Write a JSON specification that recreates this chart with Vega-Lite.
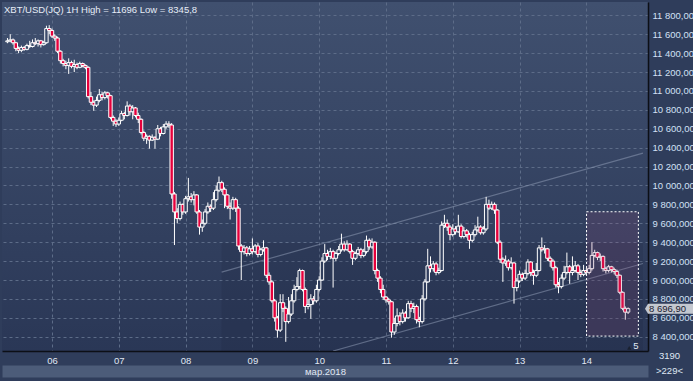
{
 "$schema": "https://vega.github.io/schema/vega-lite/v6.json",
 "width": 646,
 "height": 349,
 "autosize": {"type": "none"},
 "padding": {"left": 2, "top": 2, "right": 45, "bottom": 30},
 "background": "#2f3d5b",
 "config": {
  "locale": {"number": {"decimal": ",", "thousands": " ", "grouping": [3], "currency": ["", ""]}},
  "view": {"stroke": null, "fill": {"gradient": "linear", "x1": 0, "y1": 0, "x2": 0, "y2": 1, "stops": [{"offset": 0, "color": "#40506f"}, {"offset": 1, "color": "#2a3756"}]}},
  "font": "Liberation Sans"
 },
 "title": {"text": "XBT/USD(JQ) 1H High = 11696 Low = 8345,8", "anchor": "start", "offset": -12, "baseline": "alphabetic", "font": "Liberation Sans", "fontSize": 9.5, "fontWeight": "normal", "color": "#e6edf7", "dx": 2, "dy": 8},
 "datasets": {
  "candles": [
   {"t":"2018-03-05T08:00","o":11520,"hi":11560,"lo":11505,"c":11530},
   {"t":"2018-03-05T09:00","o":11530,"hi":11600,"lo":11515,"c":11540},
   {"t":"2018-03-05T10:00","o":11540,"hi":11555,"lo":11490,"c":11510},
   {"t":"2018-03-05T11:00","o":11510,"hi":11520,"lo":11420,"c":11450},
   {"t":"2018-03-05T12:00","o":11450,"hi":11470,"lo":11400,"c":11430},
   {"t":"2018-03-05T13:00","o":11430,"hi":11480,"lo":11410,"c":11460},
   {"t":"2018-03-05T14:00","o":11460,"hi":11475,"lo":11425,"c":11440},
   {"t":"2018-03-05T15:00","o":11440,"hi":11500,"lo":11430,"c":11480},
   {"t":"2018-03-05T16:00","o":11480,"hi":11530,"lo":11455,"c":11470},
   {"t":"2018-03-05T17:00","o":11470,"hi":11545,"lo":11460,"c":11510},
   {"t":"2018-03-05T18:00","o":11510,"hi":11560,"lo":11485,"c":11500},
   {"t":"2018-03-05T19:00","o":11500,"hi":11545,"lo":11470,"c":11530},
   {"t":"2018-03-05T20:00","o":11530,"hi":11540,"lo":11460,"c":11490},
   {"t":"2018-03-05T21:00","o":11490,"hi":11530,"lo":11480,"c":11510},
   {"t":"2018-03-05T22:00","o":11510,"hi":11690,"lo":11500,"c":11660},
   {"t":"2018-03-05T23:00","o":11660,"hi":11696,"lo":11600,"c":11640},
   {"t":"2018-03-06T00:00","o":11640,"hi":11660,"lo":11560,"c":11580},
   {"t":"2018-03-06T01:00","o":11580,"hi":11600,"lo":11530,"c":11560},
   {"t":"2018-03-06T02:00","o":11560,"hi":11575,"lo":11400,"c":11420},
   {"t":"2018-03-06T03:00","o":11420,"hi":11430,"lo":11290,"c":11320},
   {"t":"2018-03-06T04:00","o":11320,"hi":11340,"lo":11260,"c":11290},
   {"t":"2018-03-06T05:00","o":11290,"hi":11320,"lo":11230,"c":11270},
   {"t":"2018-03-06T06:00","o":11270,"hi":11345,"lo":11180,"c":11300},
   {"t":"2018-03-06T07:00","o":11300,"hi":11320,"lo":11240,"c":11260},
   {"t":"2018-03-06T08:00","o":11260,"hi":11330,"lo":11200,"c":11280},
   {"t":"2018-03-06T09:00","o":11280,"hi":11300,"lo":11230,"c":11250},
   {"t":"2018-03-06T10:00","o":11250,"hi":11310,"lo":11240,"c":11290},
   {"t":"2018-03-06T11:00","o":11290,"hi":11300,"lo":11250,"c":11270},
   {"t":"2018-03-06T12:00","o":11270,"hi":11280,"lo":11230,"c":11250},
   {"t":"2018-03-06T13:00","o":11250,"hi":11260,"lo":10920,"c":10940},
   {"t":"2018-03-06T14:00","o":10940,"hi":10990,"lo":10850,"c":10880},
   {"t":"2018-03-06T15:00","o":10880,"hi":10900,"lo":10790,"c":10850},
   {"t":"2018-03-06T16:00","o":10850,"hi":10940,"lo":10830,"c":10900},
   {"t":"2018-03-06T17:00","o":10900,"hi":11020,"lo":10880,"c":10960},
   {"t":"2018-03-06T18:00","o":10960,"hi":10990,"lo":10900,"c":10930},
   {"t":"2018-03-06T19:00","o":10930,"hi":11000,"lo":10910,"c":10980},
   {"t":"2018-03-06T20:00","o":10980,"hi":10990,"lo":10920,"c":10950},
   {"t":"2018-03-06T21:00","o":10950,"hi":10960,"lo":10700,"c":10720},
   {"t":"2018-03-06T22:00","o":10720,"hi":10740,"lo":10630,"c":10680},
   {"t":"2018-03-06T23:00","o":10680,"hi":10700,"lo":10620,"c":10650},
   {"t":"2018-03-07T00:00","o":10650,"hi":10720,"lo":10630,"c":10690},
   {"t":"2018-03-07T01:00","o":10690,"hi":10790,"lo":10680,"c":10760},
   {"t":"2018-03-07T02:00","o":10760,"hi":10780,"lo":10700,"c":10740},
   {"t":"2018-03-07T03:00","o":10740,"hi":10890,"lo":10730,"c":10840},
   {"t":"2018-03-07T04:00","o":10840,"hi":10860,"lo":10740,"c":10780},
   {"t":"2018-03-07T05:00","o":10780,"hi":10850,"lo":10700,"c":10820},
   {"t":"2018-03-07T06:00","o":10820,"hi":10830,"lo":10720,"c":10740},
   {"t":"2018-03-07T07:00","o":10740,"hi":10770,"lo":10660,"c":10700},
   {"t":"2018-03-07T08:00","o":10700,"hi":10710,"lo":10540,"c":10560},
   {"t":"2018-03-07T09:00","o":10560,"hi":10580,"lo":10470,"c":10500},
   {"t":"2018-03-07T10:00","o":10500,"hi":10540,"lo":10440,"c":10520},
   {"t":"2018-03-07T11:00","o":10520,"hi":10530,"lo":10390,"c":10480},
   {"t":"2018-03-07T12:00","o":10480,"hi":10540,"lo":10470,"c":10510},
   {"t":"2018-03-07T13:00","o":10510,"hi":10520,"lo":10390,"c":10490},
   {"t":"2018-03-07T14:00","o":10490,"hi":10640,"lo":10480,"c":10600},
   {"t":"2018-03-07T15:00","o":10600,"hi":10620,"lo":10520,"c":10550},
   {"t":"2018-03-07T16:00","o":10550,"hi":10650,"lo":10540,"c":10620},
   {"t":"2018-03-07T17:00","o":10620,"hi":10680,"lo":10600,"c":10650},
   {"t":"2018-03-07T18:00","o":10650,"hi":10680,"lo":10610,"c":10640},
   {"t":"2018-03-07T19:00","o":10640,"hi":10660,"lo":9860,"c":9910},
   {"t":"2018-03-07T20:00","o":9910,"hi":9930,"lo":9370,"c":9720},
   {"t":"2018-03-07T21:00","o":9720,"hi":9760,"lo":9600,"c":9650},
   {"t":"2018-03-07T22:00","o":9650,"hi":9830,"lo":9630,"c":9800},
   {"t":"2018-03-07T23:00","o":9800,"hi":9810,"lo":9690,"c":9720},
   {"t":"2018-03-08T00:00","o":9720,"hi":9890,"lo":9700,"c":9860},
   {"t":"2018-03-08T01:00","o":9860,"hi":10080,"lo":9830,"c":9880},
   {"t":"2018-03-08T02:00","o":9880,"hi":9920,"lo":9820,"c":9850},
   {"t":"2018-03-08T03:00","o":9850,"hi":9940,"lo":9790,"c":9900},
   {"t":"2018-03-08T04:00","o":9900,"hi":9910,"lo":9700,"c":9720},
   {"t":"2018-03-08T05:00","o":9720,"hi":9740,"lo":9480,"c":9560},
   {"t":"2018-03-08T06:00","o":9560,"hi":9640,"lo":9510,"c":9600},
   {"t":"2018-03-08T07:00","o":9600,"hi":9750,"lo":9580,"c":9720},
   {"t":"2018-03-08T08:00","o":9720,"hi":9820,"lo":9700,"c":9780},
   {"t":"2018-03-08T09:00","o":9780,"hi":9800,"lo":9720,"c":9760},
   {"t":"2018-03-08T10:00","o":9760,"hi":9930,"lo":9740,"c":9850},
   {"t":"2018-03-08T11:00","o":9850,"hi":10000,"lo":9830,"c":9950},
   {"t":"2018-03-08T12:00","o":9950,"hi":10095,"lo":9930,"c":10030},
   {"t":"2018-03-08T13:00","o":10030,"hi":10050,"lo":9930,"c":9960},
   {"t":"2018-03-08T14:00","o":9960,"hi":9980,"lo":9760,"c":9900},
   {"t":"2018-03-08T15:00","o":9900,"hi":9910,"lo":9750,"c":9780},
   {"t":"2018-03-08T16:00","o":9780,"hi":9820,"lo":9640,"c":9760},
   {"t":"2018-03-08T17:00","o":9760,"hi":9880,"lo":9740,"c":9850},
   {"t":"2018-03-08T18:00","o":9850,"hi":9870,"lo":9720,"c":9760},
   {"t":"2018-03-08T19:00","o":9760,"hi":9780,"lo":9320,"c":9360},
   {"t":"2018-03-08T20:00","o":9360,"hi":9380,"lo":9000,"c":9300},
   {"t":"2018-03-08T21:00","o":9300,"hi":9370,"lo":9270,"c":9340},
   {"t":"2018-03-08T22:00","o":9340,"hi":9360,"lo":9250,"c":9280},
   {"t":"2018-03-08T23:00","o":9280,"hi":9360,"lo":9260,"c":9330},
   {"t":"2018-03-09T00:00","o":9330,"hi":9440,"lo":9270,"c":9300},
   {"t":"2018-03-09T01:00","o":9300,"hi":9380,"lo":9280,"c":9360},
   {"t":"2018-03-09T02:00","o":9360,"hi":9390,"lo":9240,"c":9270},
   {"t":"2018-03-09T03:00","o":9270,"hi":9340,"lo":9250,"c":9320},
   {"t":"2018-03-09T04:00","o":9320,"hi":9420,"lo":9300,"c":9340},
   {"t":"2018-03-09T05:00","o":9340,"hi":9350,"lo":9020,"c":9050},
   {"t":"2018-03-09T06:00","o":9050,"hi":9080,"lo":8950,"c":8980},
   {"t":"2018-03-09T07:00","o":8980,"hi":9000,"lo":8760,"c":8780},
   {"t":"2018-03-09T08:00","o":8780,"hi":8800,"lo":8560,"c":8600},
   {"t":"2018-03-09T09:00","o":8600,"hi":8620,"lo":8390,"c":8470},
   {"t":"2018-03-09T10:00","o":8470,"hi":8850,"lo":8450,"c":8760},
   {"t":"2018-03-09T11:00","o":8760,"hi":8850,"lo":8660,"c":8700},
   {"t":"2018-03-09T12:00","o":8700,"hi":8720,"lo":8346,"c":8560},
   {"t":"2018-03-09T13:00","o":8560,"hi":8820,"lo":8540,"c":8640},
   {"t":"2018-03-09T14:00","o":8640,"hi":8850,"lo":8620,"c":8780},
   {"t":"2018-03-09T15:00","o":8780,"hi":8950,"lo":8760,"c":8900},
   {"t":"2018-03-09T16:00","o":8900,"hi":9030,"lo":8880,"c":8930},
   {"t":"2018-03-09T17:00","o":8930,"hi":9120,"lo":8900,"c":9100},
   {"t":"2018-03-09T18:00","o":9100,"hi":9110,"lo":8880,"c":8900},
   {"t":"2018-03-09T19:00","o":8900,"hi":8920,"lo":8650,"c":8720},
   {"t":"2018-03-09T20:00","o":8720,"hi":8800,"lo":8690,"c":8740},
   {"t":"2018-03-09T21:00","o":8740,"hi":8850,"lo":8590,"c":8800},
   {"t":"2018-03-09T22:00","o":8800,"hi":8830,"lo":8740,"c":8780},
   {"t":"2018-03-09T23:00","o":8780,"hi":8950,"lo":8760,"c":8900},
   {"t":"2018-03-10T00:00","o":8900,"hi":9040,"lo":8880,"c":9000},
   {"t":"2018-03-10T01:00","o":9000,"hi":9240,"lo":8990,"c":9200},
   {"t":"2018-03-10T02:00","o":9200,"hi":9380,"lo":9180,"c":9280},
   {"t":"2018-03-10T03:00","o":9280,"hi":9320,"lo":9210,"c":9250},
   {"t":"2018-03-10T04:00","o":9250,"hi":9340,"lo":9220,"c":9300},
   {"t":"2018-03-10T05:00","o":9300,"hi":9320,"lo":8920,"c":9230},
   {"t":"2018-03-10T06:00","o":9230,"hi":9300,"lo":9200,"c":9280},
   {"t":"2018-03-10T07:00","o":9280,"hi":9360,"lo":9260,"c":9320},
   {"t":"2018-03-10T08:00","o":9320,"hi":9490,"lo":9300,"c":9380},
   {"t":"2018-03-10T09:00","o":9380,"hi":9410,"lo":9300,"c":9320},
   {"t":"2018-03-10T10:00","o":9320,"hi":9420,"lo":9310,"c":9380},
   {"t":"2018-03-10T11:00","o":9380,"hi":9390,"lo":9280,"c":9300},
   {"t":"2018-03-10T12:00","o":9300,"hi":9320,"lo":9160,"c":9230},
   {"t":"2018-03-10T13:00","o":9230,"hi":9300,"lo":9210,"c":9280},
   {"t":"2018-03-10T14:00","o":9280,"hi":9350,"lo":9260,"c":9320},
   {"t":"2018-03-10T15:00","o":9320,"hi":9340,"lo":9230,"c":9260},
   {"t":"2018-03-10T16:00","o":9260,"hi":9330,"lo":9240,"c":9300},
   {"t":"2018-03-10T17:00","o":9300,"hi":9470,"lo":9280,"c":9420},
   {"t":"2018-03-10T18:00","o":9420,"hi":9440,"lo":9320,"c":9350},
   {"t":"2018-03-10T19:00","o":9350,"hi":9440,"lo":9330,"c":9400},
   {"t":"2018-03-10T20:00","o":9400,"hi":9410,"lo":9060,"c":9100},
   {"t":"2018-03-10T21:00","o":9100,"hi":9120,"lo":8980,"c":9020},
   {"t":"2018-03-10T22:00","o":9020,"hi":9040,"lo":8860,"c":8900},
   {"t":"2018-03-10T23:00","o":8900,"hi":8950,"lo":8790,"c":8820},
   {"t":"2018-03-11T00:00","o":8820,"hi":8830,"lo":8760,"c":8790},
   {"t":"2018-03-11T01:00","o":8790,"hi":8810,"lo":8740,"c":8770},
   {"t":"2018-03-11T02:00","o":8770,"hi":8780,"lo":8390,"c":8450},
   {"t":"2018-03-11T03:00","o":8450,"hi":8600,"lo":8420,"c":8540},
   {"t":"2018-03-11T04:00","o":8540,"hi":8700,"lo":8510,"c":8620},
   {"t":"2018-03-11T05:00","o":8620,"hi":8660,"lo":8520,"c":8560},
   {"t":"2018-03-11T06:00","o":8560,"hi":8690,"lo":8540,"c":8650},
   {"t":"2018-03-11T07:00","o":8650,"hi":8670,"lo":8560,"c":8600},
   {"t":"2018-03-11T08:00","o":8600,"hi":8780,"lo":8590,"c":8750},
   {"t":"2018-03-11T09:00","o":8750,"hi":8780,"lo":8660,"c":8700},
   {"t":"2018-03-11T10:00","o":8700,"hi":8760,"lo":8650,"c":8720},
   {"t":"2018-03-11T11:00","o":8720,"hi":8740,"lo":8540,"c":8580},
   {"t":"2018-03-11T12:00","o":8580,"hi":8610,"lo":8500,"c":8560},
   {"t":"2018-03-11T13:00","o":8560,"hi":8840,"lo":8540,"c":8800},
   {"t":"2018-03-11T14:00","o":8800,"hi":9010,"lo":8780,"c":8980},
   {"t":"2018-03-11T15:00","o":8980,"hi":9330,"lo":8970,"c":9150},
   {"t":"2018-03-11T16:00","o":9150,"hi":9250,"lo":9080,"c":9120},
   {"t":"2018-03-11T17:00","o":9120,"hi":9200,"lo":9090,"c":9170},
   {"t":"2018-03-11T18:00","o":9170,"hi":9190,"lo":9050,"c":9080},
   {"t":"2018-03-11T19:00","o":9080,"hi":9130,"lo":9060,"c":9100},
   {"t":"2018-03-11T20:00","o":9100,"hi":9620,"lo":9090,"c":9580},
   {"t":"2018-03-11T21:00","o":9580,"hi":9690,"lo":9550,"c":9600},
   {"t":"2018-03-11T22:00","o":9600,"hi":9640,"lo":9520,"c":9560},
   {"t":"2018-03-11T23:00","o":9560,"hi":9580,"lo":9420,"c":9480},
   {"t":"2018-03-12T00:00","o":9480,"hi":9590,"lo":9460,"c":9540},
   {"t":"2018-03-12T01:00","o":9540,"hi":9570,"lo":9480,"c":9510},
   {"t":"2018-03-12T02:00","o":9510,"hi":9690,"lo":9500,"c":9570},
   {"t":"2018-03-12T03:00","o":9570,"hi":9590,"lo":9440,"c":9460},
   {"t":"2018-03-12T04:00","o":9460,"hi":9560,"lo":9440,"c":9520},
   {"t":"2018-03-12T05:00","o":9520,"hi":9540,"lo":9450,"c":9480},
   {"t":"2018-03-12T06:00","o":9480,"hi":9500,"lo":9330,"c":9420},
   {"t":"2018-03-12T07:00","o":9420,"hi":9510,"lo":9400,"c":9480},
   {"t":"2018-03-12T08:00","o":9480,"hi":9580,"lo":9460,"c":9530},
   {"t":"2018-03-12T09:00","o":9530,"hi":9670,"lo":9510,"c":9560},
   {"t":"2018-03-12T10:00","o":9560,"hi":9580,"lo":9480,"c":9500},
   {"t":"2018-03-12T11:00","o":9500,"hi":9570,"lo":9480,"c":9540},
   {"t":"2018-03-12T12:00","o":9540,"hi":9880,"lo":9520,"c":9800},
   {"t":"2018-03-12T13:00","o":9800,"hi":9850,"lo":9740,"c":9760},
   {"t":"2018-03-12T14:00","o":9760,"hi":9830,"lo":9740,"c":9800},
   {"t":"2018-03-12T15:00","o":9800,"hi":9820,"lo":9700,"c":9740},
   {"t":"2018-03-12T16:00","o":9740,"hi":9750,"lo":9380,"c":9400},
   {"t":"2018-03-12T17:00","o":9400,"hi":9420,"lo":9180,"c":9220},
   {"t":"2018-03-12T18:00","o":9220,"hi":9240,"lo":8980,"c":9180},
   {"t":"2018-03-12T19:00","o":9180,"hi":9260,"lo":9150,"c":9200},
   {"t":"2018-03-12T20:00","o":9200,"hi":9220,"lo":9100,"c":9130},
   {"t":"2018-03-12T21:00","o":9130,"hi":9240,"lo":9110,"c":9180},
   {"t":"2018-03-12T22:00","o":9180,"hi":9190,"lo":8750,"c":8920},
   {"t":"2018-03-12T23:00","o":8920,"hi":9020,"lo":8880,"c":8990},
   {"t":"2018-03-13T00:00","o":8990,"hi":9100,"lo":8970,"c":9060},
   {"t":"2018-03-13T01:00","o":9060,"hi":9080,"lo":8990,"c":9020},
   {"t":"2018-03-13T02:00","o":9020,"hi":9110,"lo":9000,"c":9070},
   {"t":"2018-03-13T03:00","o":9070,"hi":9220,"lo":9050,"c":9190},
   {"t":"2018-03-13T04:00","o":9190,"hi":9200,"lo":9040,"c":9080},
   {"t":"2018-03-13T05:00","o":9080,"hi":9110,"lo":8950,"c":9050},
   {"t":"2018-03-13T06:00","o":9050,"hi":9180,"lo":9030,"c":9100},
   {"t":"2018-03-13T07:00","o":9100,"hi":9370,"lo":9090,"c":9340},
   {"t":"2018-03-13T08:00","o":9340,"hi":9450,"lo":9300,"c":9320},
   {"t":"2018-03-13T09:00","o":9320,"hi":9370,"lo":9280,"c":9330},
   {"t":"2018-03-13T10:00","o":9330,"hi":9340,"lo":9200,"c":9230},
   {"t":"2018-03-13T11:00","o":9230,"hi":9250,"lo":9140,"c":9200},
   {"t":"2018-03-13T12:00","o":9200,"hi":9220,"lo":9100,"c":9130},
   {"t":"2018-03-13T13:00","o":9130,"hi":9150,"lo":8920,"c":8950},
   {"t":"2018-03-13T14:00","o":8950,"hi":8980,"lo":8860,"c":8930},
   {"t":"2018-03-13T15:00","o":8930,"hi":9060,"lo":8910,"c":9020},
   {"t":"2018-03-13T16:00","o":9020,"hi":9150,"lo":9000,"c":9080},
   {"t":"2018-03-13T17:00","o":9080,"hi":9290,"lo":9060,"c":9140},
   {"t":"2018-03-13T18:00","o":9140,"hi":9160,"lo":8960,"c":9080},
   {"t":"2018-03-13T19:00","o":9080,"hi":9250,"lo":9050,"c":9100},
   {"t":"2018-03-13T20:00","o":9100,"hi":9200,"lo":9080,"c":9150},
   {"t":"2018-03-13T21:00","o":9150,"hi":9170,"lo":9000,"c":9080},
   {"t":"2018-03-13T22:00","o":9080,"hi":9110,"lo":9030,"c":9060},
   {"t":"2018-03-13T23:00","o":9060,"hi":9160,"lo":9040,"c":9100},
   {"t":"2018-03-14T00:00","o":9100,"hi":9130,"lo":9050,"c":9080},
   {"t":"2018-03-14T01:00","o":9080,"hi":9160,"lo":9060,"c":9120},
   {"t":"2018-03-14T02:00","o":9120,"hi":9400,"lo":9100,"c":9260},
   {"t":"2018-03-14T03:00","o":9260,"hi":9320,"lo":9240,"c":9290},
   {"t":"2018-03-14T04:00","o":9290,"hi":9300,"lo":9210,"c":9240},
   {"t":"2018-03-14T05:00","o":9240,"hi":9280,"lo":9200,"c":9250},
   {"t":"2018-03-14T06:00","o":9250,"hi":9260,"lo":9090,"c":9120},
   {"t":"2018-03-14T07:00","o":9120,"hi":9140,"lo":9070,"c":9100},
   {"t":"2018-03-14T08:00","o":9100,"hi":9160,"lo":9080,"c":9140},
   {"t":"2018-03-14T09:00","o":9140,"hi":9150,"lo":9080,"c":9110},
   {"t":"2018-03-14T10:00","o":9110,"hi":9130,"lo":9060,"c":9090},
   {"t":"2018-03-14T11:00","o":9090,"hi":9110,"lo":9020,"c":9050},
   {"t":"2018-03-14T12:00","o":9050,"hi":9060,"lo":8850,"c":8870},
   {"t":"2018-03-14T13:00","o":8870,"hi":8880,"lo":8680,"c":8700},
   {"t":"2018-03-14T14:00","o":8700,"hi":8720,"lo":8580,"c":8660},
   {"t":"2018-03-14T15:00","o":8660,"hi":8710,"lo":8640,"c":8697}
  ],
  "channel": [
   {"t1":"2018-03-08T12:57","p1":9084,"t2":"2018-03-14T20:21","p2":10343},
   {"t1":"2018-03-10T05:00","p1":8249,"t2":"2018-03-14T20:21","p2":9175}
  ],
  "shade": [
   {"t1":"2018-03-08T12:57","t2":"2018-03-14T20:21","p1":8249,"p2":9391}
  ],
  "zone": [
   {"t1":"2018-03-14T00:04","t2":"2018-03-14T18:41","p1":8407,"p2":9722}
  ],
  "tag": [
   {"t":"2018-03-14T20:21","p":8696.9,"label":"8 696,90"}
  ],
  "marker": [
   {"t":"2018-03-14T17:48","p":8301,"label":"5","tt":"2018-03-14T15:24","tp":8282}
  ]
 },
 "resolve": {"axis": {"x": "independent", "y": "independent"}},
 "layer": [
  {
   "data": {"name": "shade"},
   "mark": {"type": "rect", "fill": "#16203a", "fillOpacity": 0.16},
   "encoding": {
    "x": {"field": "t1", "type": "temporal", "scale": {"domain": [{"year":2018,"month":3,"date":5,"hours":7,"minutes":50},{"year":2018,"month":3,"date":14,"hours":20,"minutes":21}]}, "axis": null},
    "x2": {"field": "t2"},
    "y": {"field": "p1", "type": "quantitative", "scale": {"domain": [8249, 11941], "nice": false, "zero": false}, "axis": null},
    "y2": {"field": "p2"}
   }
  },
  {
   "data": {"name": "channel"},
   "mark": {"type": "rule", "color": "#8c99b2", "strokeWidth": 1.2, "opacity": 0.55, "clip": true},
   "encoding": {
    "x": {"field": "t1", "type": "temporal",
     "scale": {"domain": [{"year":2018,"month":3,"date":5,"hours":7,"minutes":50},{"year":2018,"month":3,"date":14,"hours":20,"minutes":21}]},
     "axis": {"orient": "bottom", "offset": 20, "labels": false, "ticks": false, "grid": false, "domainColor": "#4c5c79", "domainWidth": 12, "title": "мар.2018", "titleColor": "#e0e8f4", "titleFont": "Liberation Sans", "titleFontSize": 9.5, "titleFontWeight": "normal", "titleY": 0, "titleBaseline": "middle"}},
    "x2": {"field": "t2"},
    "y": {"field": "p1", "type": "quantitative",
     "scale": {"domain": [8249, 11941], "nice": false, "zero": false},
     "axis": {"orient": "right", "values": [8400,8600,8800,9000,9200,9400,9600,9800,10000,10200,10400,10600,10800,11000,11200,11400,11600,11800], "format": ",.3f", "labelColor": "#d2e0f5", "labelFont": "Liberation Sans", "labelFontSize": 9.5, "labelPadding": 4, "ticks": false, "tickSize": 0, "domainColor": "#0c0f16", "domainWidth": 1.5, "grid": true, "gridColor": "#5d6c88", "gridDash": [3,3], "labelOverlap": false, "title": "3190", "titleAngle": 0, "titleX": 21, "titleY": 353, "titleAlign": "center", "titleBaseline": "middle", "titleColor": "#dfe7f3", "titleFont": "Liberation Sans", "titleFontSize": 9.5, "titleFontWeight": "normal"}},
    "y2": {"field": "p2"}
   }
  },
  {
   "data": {"name": "candles"},
   "mark": {"type": "rule", "color": "#ffffff", "strokeWidth": 1},
   "encoding": {
    "x": {"field": "t", "type": "temporal",
     "scale": {"domain": [{"year":2018,"month":3,"date":5,"hours":7,"minutes":50},{"year":2018,"month":3,"date":14,"hours":20,"minutes":21}]},
     "axis": {"orient": "bottom", "format": "%d", "tickCount": {"interval": "day", "step": 1}, "labelColor": "#e0e8f4", "labelFont": "Liberation Sans", "labelFontSize": 9.5, "labelPadding": 4, "labelBaseline": "top", "ticks": false, "tickSize": 0, "domainColor": "#0c0f16", "domainWidth": 1.5, "grid": true, "gridColor": "#5d6c88", "gridDash": [3,3], "labelFlush": false, "labelOverlap": false, "title": ">229<", "titleX": 667, "titleY": 19, "titleAlign": "center", "titleBaseline": "middle", "titleColor": "#dfe7f3", "titleFont": "Liberation Sans", "titleFontSize": 9.5, "titleFontWeight": "normal"}},
    "y": {"field": "lo", "type": "quantitative", "scale": {"domain": [8249, 11941], "nice": false, "zero": false}, "axis": null},
    "y2": {"field": "hi"}
   }
  },
  {
   "data": {"name": "candles"},
   "mark": {"type": "bar", "width": 3.4, "stroke": "#ffffff", "strokeWidth": 1},
   "encoding": {
    "x": {"field": "t", "type": "temporal", "scale": {"domain": [{"year":2018,"month":3,"date":5,"hours":7,"minutes":50},{"year":2018,"month":3,"date":14,"hours":20,"minutes":21}]}, "axis": null},
    "y": {"field": "o", "type": "quantitative", "scale": {"domain": [8249, 11941], "nice": false, "zero": false}, "axis": null},
    "y2": {"field": "c"},
    "fill": {"condition": {"test": "datum.c < datum.o", "value": "#e6003c"}, "field": "c", "type": "quantitative", "scale": {"domain": [8249, 11941], "range": ["#2b3857", "#3f4f6f"]}, "legend": null}
   }
  },
  {
   "data": {"name": "zone"},
   "mark": {"type": "rect", "fill": "#a0507a", "fillOpacity": 0.17, "stroke": "#ffffff", "strokeDash": [2,2], "strokeWidth": 1},
   "encoding": {
    "x": {"field": "t1", "type": "temporal", "scale": {"domain": [{"year":2018,"month":3,"date":5,"hours":7,"minutes":50},{"year":2018,"month":3,"date":14,"hours":20,"minutes":21}]}, "axis": null},
    "x2": {"field": "t2"},
    "y": {"field": "p1", "type": "quantitative", "scale": {"domain": [8249, 11941], "nice": false, "zero": false}, "axis": null},
    "y2": {"field": "p2"}
   }
  },
  {
   "data": {"name": "tag"},
   "mark": {"type": "point", "shape": "M0.04,0L0.1,-0.1L1,-0.1L1,0.1L0.1,0.1Z", "size": 10000, "filled": true, "fill": "#c3c7cf", "opacity": 1, "strokeWidth": 0, "clip": false},
   "encoding": {
    "x": {"field": "t", "type": "temporal", "scale": {"domain": [{"year":2018,"month":3,"date":5,"hours":7,"minutes":50},{"year":2018,"month":3,"date":14,"hours":20,"minutes":21}]}, "axis": null},
    "y": {"field": "p", "type": "quantitative", "scale": {"domain": [8249, 11941], "nice": false, "zero": false}, "axis": null}
   }
  },
  {
   "data": {"name": "tag"},
   "mark": {"type": "text", "align": "left", "baseline": "middle", "dx": 6, "fontSize": 9.5, "font": "Liberation Sans", "color": "#1a2030", "clip": false},
   "encoding": {
    "x": {"field": "t", "type": "temporal", "scale": {"domain": [{"year":2018,"month":3,"date":5,"hours":7,"minutes":50},{"year":2018,"month":3,"date":14,"hours":20,"minutes":21}]}, "axis": null},
    "y": {"field": "p", "type": "quantitative", "scale": {"domain": [8249, 11941], "nice": false, "zero": false}, "axis": null},
    "text": {"field": "label"}
   }
  },
  {
   "data": {"name": "marker"},
   "mark": {"type": "point", "shape": "triangle-up", "size": 18, "filled": true, "fill": "#1a2130", "opacity": 1},
   "encoding": {
    "x": {"field": "tt", "type": "temporal", "scale": {"domain": [{"year":2018,"month":3,"date":5,"hours":7,"minutes":50},{"year":2018,"month":3,"date":14,"hours":20,"minutes":21}]}, "axis": null},
    "y": {"field": "tp", "type": "quantitative", "scale": {"domain": [8249, 11941], "nice": false, "zero": false}, "axis": null}
   }
  },
  {
   "data": {"name": "marker"},
   "mark": {"type": "text", "align": "center", "baseline": "middle", "fontSize": 9.5, "font": "Liberation Sans", "color": "#e0e8f4"},
   "encoding": {
    "x": {"field": "t", "type": "temporal", "scale": {"domain": [{"year":2018,"month":3,"date":5,"hours":7,"minutes":50},{"year":2018,"month":3,"date":14,"hours":20,"minutes":21}]}, "axis": null},
    "y": {"field": "p", "type": "quantitative", "scale": {"domain": [8249, 11941], "nice": false, "zero": false}, "axis": null},
    "text": {"field": "label"}
   }
  }
 ]
}
